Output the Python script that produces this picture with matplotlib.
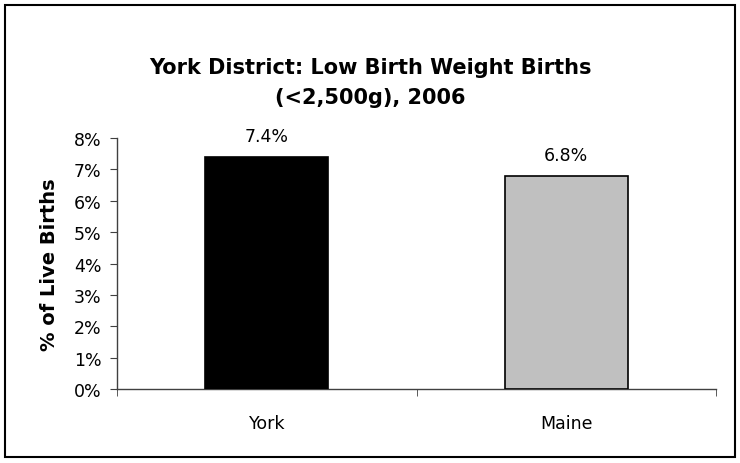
import matplotlib
matplotlib.use("Agg")
from matplotlib import pyplot as plt
from matplotlib.patches import Rectangle
from matplotlib.ticker import FixedLocator, FuncFormatter

categories = ["York", "Maine"]
values = [7.4, 6.8]
labels = ["7.4%", "6.8%"]
colors = ["#000000", "#C0C0C0"]
yticks = [0, 1, 2, 3, 4, 5, 6, 7, 8]

plt.rcParams['font.family'] = ['DejaVu Sans']

fig = plt.figure(figsize=(7.4, 4.64), dpi=100)
ax = fig.add_axes([117/740, 1-390/464, (716-117)/740, (390-139)/464])

x = range(len(categories))
ax.bar(x, values, width=0.41, color=colors, edgecolor="black", linewidth=1.2, zorder=3)
for i, v in enumerate(values):
    ax.text(i, v + 0.65, labels[i], ha="center", va="center", fontsize=12.5)

ax.set_xlim(-0.5, 1.5)
ax.set_ylim(0, 8)
ax.set_yticks(yticks)
ax.yaxis.set_major_formatter(FuncFormatter(lambda v, p: "{:d}%".format(int(v))))
ax.set_xticks(list(x))
ax.set_xticklabels(categories, fontsize=12.5)
ax.xaxis.set_minor_locator(FixedLocator([-0.5, 0.5, 1.5]))
ax.tick_params(axis="x", which="major", length=0, pad=18)
ax.tick_params(axis="x", which="minor", length=5, direction="out", color="#404040")
ax.tick_params(axis="y", length=5, direction="out", color="#404040", labelsize=12.5, pad=6)

for s in ["top", "right"]:
    ax.spines[s].set_visible(False)
for s in ["left", "bottom"]:
    ax.spines[s].set_color("#404040")
    ax.spines[s].set_linewidth(1.0)

ax.set_ylabel("% of Live Births", fontsize=14, fontweight="bold", labelpad=11)

fig.text(370/740, 1-83/464, "York District: Low Birth Weight Births\n(<2,500g), 2006",
         ha="center", va="center", fontsize=15, fontweight="bold", linespacing=1.65)

fig.patches.append(Rectangle((5/740, 6/464), 730/740, 452/464, transform=fig.transFigure,
                             fill=False, edgecolor="black", linewidth=1.5))

fig.savefig("out.png", dpi=100)
